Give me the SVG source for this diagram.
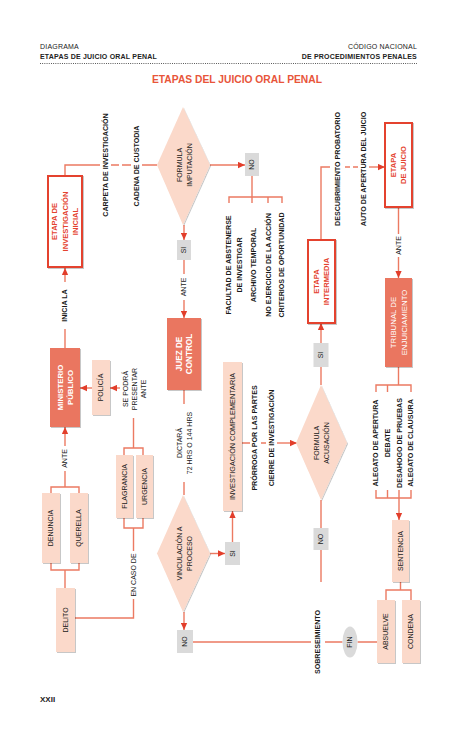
<svg xmlns="http://www.w3.org/2000/svg" width="474" height="732" viewBox="0 0 474 732">
<style>
text{font-family:"Liberation Sans",Arial,sans-serif;}
.hd{font-size:7px;fill:#222;letter-spacing:0.2px}
.hb{font-weight:bold}
.ttl{font-size:10.5px;font-weight:bold;fill:#E8553A;text-anchor:middle}
.ln{stroke:#EC7A62;stroke-width:1.4;fill:none}
.la{stroke:#EC7A62;stroke-width:1.4;fill:none;marker-end:url(#ar)}
.or{fill:#EA7660;filter:url(#sh)}
.pe{fill:#FBD9CA;filter:url(#sh)}
.ro{fill:#fff;stroke:#E4432F;stroke-width:2;filter:url(#sh)}
.gr{fill:#DADADA}
.t{font-size:7.1px;font-weight:bold;fill:#1a1a1a;text-anchor:middle}
.tm{font-size:7px;fill:#1a1a1a;text-anchor:middle}
.tw{font-size:7.8px;font-weight:bold;fill:#fff;text-anchor:middle}
.twr{font-size:7.8px;fill:#fff;text-anchor:middle}
.tr{font-size:7.6px;font-weight:bold;fill:#E4432F;text-anchor:middle}
</style>
<defs>
<marker id="ar" viewBox="0 0 10 10" refX="10" refY="5" markerWidth="7" markerHeight="7" orient="auto" markerUnits="userSpaceOnUse">
<path d="M0 0.5L10 5L0 9.5z" fill="#E23E2B"/>
</marker>
<filter id="sh" x="-20%" y="-20%" width="150%" height="150%">
<feDropShadow dx="1" dy="1" stdDeviation="0.7" flood-color="#000" flood-opacity="0.22"/>
</filter>
</defs>

<g id="header">
<text class="hd" x="40" y="49">DIAGRAMA</text>
<text class="hd hb" x="40" y="59">ETAPAS DE JUICIO ORAL PENAL</text>
<text class="hd" x="417" y="49" text-anchor="end">CÓDIGO NACIONAL</text>
<text class="hd hb" x="417" y="59" text-anchor="end">DE PROCEDIMIENTOS PENALES</text>
<line x1="40" y1="63.5" x2="417" y2="63.5" stroke="#333" stroke-width="0.9" stroke-dasharray="0.9 1.3"/>
<text class="ttl" x="237" y="83" textLength="170" lengthAdjust="spacingAndGlyphs">ETAPAS DEL JUICIO ORAL PENAL</text>
</g>

<g id="connectors">
<path class="ln" d="M65 348V329"/>
<path class="la" d="M65 282V268"/>
<path class="ln" d="M65 176V165H100M111 165H119M122 165H131M142 165H157"/>
<path class="la" d="M210 165H245"/>
<path class="ln" d="M252 176V203M229 203V197H282V203M268 197V203"/>
<path class="la" d="M184 225V240"/>
<path class="ln" d="M184 260V274"/>
<path class="la" d="M184 300V318"/>
<path class="ln" d="M184 390V404M184 482V495"/>
<path class="la" d="M210 553.5H225"/>
<path class="la" d="M232.5 542V511"/>
<path class="la" d="M184 612V630"/>
<path class="ln" d="M193 642H311M325 642H342.5M357.5 642H377"/>
<path class="ln" d="M242 443H250M261 443H266"/>
<path class="la" d="M277 443H297"/>
<path class="ln" d="M321 385V367"/>
<path class="la" d="M321 343V323"/>
<path class="ln" d="M321 500V528M321 550V582"/>
<path class="ln" d="M321 240V167H330M345 167H350M353 167H358"/>
<path class="la" d="M369 167H385"/>
<path class="ln" d="M398.5 207V234"/>
<path class="la" d="M398.5 257V278"/>
<path class="ln" d="M398.5 367V385M376 392V385H411V392M387.5 385V392"/>
<path class="ln" d="M376 490V498H411V490M387.5 490V498M399 490V498"/>
<path class="la" d="M399 498V520"/>
<path class="ln" d="M400.5 582V590M386 600V590H411V600"/>
<path class="la" d="M92 388H80"/>
<path class="la" d="M120 388H110"/>
<path class="ln" d="M133.5 418V448M124 455V448H143V455"/>
<path class="ln" d="M124 518V528H143V518M133.5 528V551M133.5 599V618H75"/>
<path class="ln" d="M65 487V471"/>
<path class="la" d="M65 446V427"/>
<path class="ln" d="M51 493V487H79V493M51 563V570H79V563M65 570V588"/>
</g>

<g id="labels">
<text class="t" transform="translate(65 305.5) rotate(-90)" y="2.4">INICIA LA</text>
<text class="t" transform="translate(106 165) rotate(-90)" y="2.4">CARPETA DE INVESTIGACIÓN</text>
<text class="t" transform="translate(137 166) rotate(-90)" y="2.4">CADENA DE CUSTODIA</text>
<text class="t" transform="translate(234.5 265) rotate(-90)"><tspan x="0" y="-3.2">FACULTAD DE ABSTENERSE</tspan><tspan x="0" y="7.8">DE INVESTIGAR</tspan></text>
<text class="t" transform="translate(253.5 265) rotate(-90)" y="2.4">ARCHIVO TEMPORAL</text>
<text class="t" transform="translate(268.5 265) rotate(-90)" y="2.4">NO EJERCICIO DE LA ACCIÓN</text>
<text class="t" transform="translate(282 265) rotate(-90)" y="2.4">CRITERIOS DE OPORTUNIDAD</text>
<text class="tm" transform="translate(184 287) rotate(-90)" y="2.4">ANTE</text>
<text class="tm" transform="translate(184.5 443) rotate(-90)"><tspan x="0" y="-2.6">DICTARÁ</tspan><tspan x="0" y="7.4">72 HRS O 144 HRS</tspan></text>
<text class="t" transform="translate(255 438) rotate(-90)" y="2.4">PRÓRROGA POR LAS PARTES</text>
<text class="t" transform="translate(271.5 438) rotate(-90)" y="2.4">CIERRE DE INVESTIGACIÓN</text>
<text class="t" transform="translate(318 642) rotate(-90)" y="2.4">SOBRESEIMIENTO</text>
<text class="t" transform="translate(337.5 169) rotate(-90)" y="2.4">DESCUBRIMIENTO PROBATORIO</text>
<text class="t" transform="translate(363.5 169) rotate(-90)" y="2.4">AUTO DE APERTURA DEL JUICIO</text>
<text class="tm" transform="translate(398.5 245.5) rotate(-90)" y="2.4">ANTE</text>
<text class="t" transform="translate(376 443) rotate(-90)" y="2.4">ALEGATO DE APERTURA</text>
<text class="t" transform="translate(387.5 443) rotate(-90)" y="2.4">DEBATE</text>
<text class="t" transform="translate(399.5 443) rotate(-90)" y="2.4">DESAHOGO DE PRUEBAS</text>
<text class="t" transform="translate(411 443) rotate(-90)" y="2.4">ALEGATO DE CLAUSURA</text>
<text class="tm" transform="translate(134.5 389) rotate(-90)"><tspan x="0" y="-6.6">SE PODRÁ</tspan><tspan x="0" y="2.4">PRESENTAR</tspan><tspan x="0" y="11.4">ANTE</tspan></text>
<text class="tm" transform="translate(133.5 575) rotate(-90)" y="2.4">EN CASO DE</text>
<text class="tm" transform="translate(65 458.5) rotate(-90)" y="2.4">ANTE</text>
</g>

<g id="etapa-investigacion-inicial">
<rect class="ro" x="48" y="176" width="34" height="91"/>
<text class="tr" transform="translate(65 221.5) rotate(-90)"><tspan x="0" y="-7.8">ETAPA DE</tspan><tspan x="0" y="2.7">INVESTIGACIÓN</tspan><tspan x="0" y="13.2">INICIAL</tspan></text>
</g>
<g id="ministerio-publico">
<rect class="or" x="50" y="348" width="30" height="79"/>
<text class="tw" transform="translate(65 387.5) rotate(-90)"><tspan x="0" y="-2.3">MINISTERIO</tspan><tspan x="0" y="7.7">PÚBLICO</tspan></text>
</g>
<g id="policia">
<rect class="pe" x="92" y="360" width="18" height="55"/>
<text class="tm" transform="translate(101 387.5) rotate(-90)" y="2.4">POLICÍA</text>
</g>
<g id="flagrancia">
<rect class="pe" x="116" y="455" width="17" height="63"/>
<text class="tm" transform="translate(124.5 486.5) rotate(-90)" y="2.4">FLAGRANCIA</text>
</g>
<g id="urgencia">
<rect class="pe" x="136" y="455" width="17" height="63"/>
<text class="tm" transform="translate(144.5 486.5) rotate(-90)" y="2.4">URGENCIA</text>
</g>
<g id="denuncia">
<rect class="pe" x="42" y="493" width="18" height="70"/>
<text class="tm" transform="translate(51 528) rotate(-90)" y="2.4">DENUNCIA</text>
</g>
<g id="querella">
<rect class="pe" x="70" y="493" width="18" height="70"/>
<text class="tm" transform="translate(79 528) rotate(-90)" y="2.4">QUERELLA</text>
</g>
<g id="delito">
<rect class="pe" x="56" y="588" width="19" height="64"/>
<text class="tm" transform="translate(65.5 620) rotate(-90)" y="2.4">DELITO</text>
</g>
<g id="formula-imputacion">
<path class="pe" d="M183 107L210 165L183 225L157 165Z"/>
<text class="tm" transform="translate(184.5 165) rotate(-90)"><tspan x="0" y="-2.6">FORMULA</tspan><tspan x="0" y="7.4">IMPUTACIÓN</tspan></text>
</g>
<g id="no-imputacion">
<rect class="gr" x="245" y="153" width="14" height="23"/>
<text class="tm" transform="translate(252 164.5) rotate(-90)" y="2.4">NO</text>
</g>
<g id="si-imputacion">
<rect class="gr" x="177" y="240" width="14" height="20"/>
<text class="tm" transform="translate(184 250) rotate(-90)" y="2.4">SI</text>
</g>
<g id="juez-de-control">
<rect class="or" x="167" y="318" width="34" height="72"/>
<text class="tw" transform="translate(184 354) rotate(-90)" style="font-size:8.2px"><tspan x="0" y="-2.3">JUEZ DE</tspan><tspan x="0" y="7.9">CONTROL</tspan></text>
</g>
<g id="vinculacion-a-proceso">
<path class="pe" d="M183 495L210 553.5L183 612L157 553.5Z"/>
<text class="tm" transform="translate(184.5 553.5) rotate(-90)"><tspan x="0" y="-2.6">VINCULACIÓN A</tspan><tspan x="0" y="7.4">PROCESO</tspan></text>
</g>
<g id="si-vinculacion">
<rect class="gr" x="225" y="542" width="15" height="23"/>
<text class="tm" transform="translate(232.5 553.5) rotate(-90)" y="2.4">SI</text>
</g>
<g id="no-vinculacion">
<rect class="gr" x="177" y="630" width="16" height="23"/>
<text class="tm" transform="translate(185 641.5) rotate(-90)" y="2.4">NO</text>
</g>
<g id="investigacion-complementaria">
<rect class="pe" x="223" y="362" width="19" height="149"/>
<text class="tm" transform="translate(232.5 436.5) rotate(-90)" y="2.5" style="font-size:7.3px">INVESTIGACIÓN COMPLEMENTARIA</text>
</g>
<g id="formula-acusacion">
<path class="pe" d="M321 385L347 443L321 500L296 443Z"/>
<text class="tm" transform="translate(322 443) rotate(-90)"><tspan x="0" y="-2.6">FORMULA</tspan><tspan x="0" y="7.4">ACUSACIÓN</tspan></text>
</g>
<g id="si-acusacion">
<rect class="gr" x="313.5" y="343" width="15" height="24"/>
<text class="tm" transform="translate(321 355) rotate(-90)" y="2.4">SI</text>
</g>
<g id="no-acusacion">
<rect class="gr" x="313.5" y="528" width="15" height="22"/>
<text class="tm" transform="translate(321 539) rotate(-90)" y="2.4">NO</text>
</g>
<g id="etapa-intermedia">
<rect class="ro" x="308" y="240" width="27" height="83"/>
<text class="tr" transform="translate(321.5 281.5) rotate(-90)"><tspan x="0" y="-2.4">ETAPA</tspan><tspan x="0" y="7.8">INTERMEDIA</tspan></text>
</g>
<g id="etapa-de-juicio">
<rect class="ro" x="385" y="123" width="27" height="84"/>
<text class="tr" transform="translate(398.5 165) rotate(-90)"><tspan x="0" y="-2.4">ETAPA</tspan><tspan x="0" y="7.8">DE JUICIO</tspan></text>
</g>
<g id="tribunal-de-enjuiciamiento">
<rect class="or" x="385" y="278" width="27" height="89"/>
<text class="twr" transform="translate(398.5 322.5) rotate(-90)"><tspan x="0" y="-2.6">TRIBUNAL DE</tspan><tspan x="0" y="8">ENJUICIAMIENTO</tspan></text>
</g>
<g id="sentencia">
<rect class="pe" x="392" y="520" width="17" height="62"/>
<text class="tm" transform="translate(400.5 551) rotate(-90)" y="2.4">SENTENCIA</text>
</g>
<g id="absuelve">
<rect class="pe" x="377" y="600" width="18" height="63"/>
<text class="tm" transform="translate(386 631.5) rotate(-90)" y="2.4">ABSUELVE</text>
</g>
<g id="condena">
<rect class="pe" x="402" y="600" width="18" height="63"/>
<text class="tm" transform="translate(411 631.5) rotate(-90)" y="2.4">CONDENA</text>
</g>
<g id="fin">
<ellipse class="gr" cx="350" cy="642" rx="7.5" ry="15.5"/>
<text class="tm" transform="translate(350 642) rotate(-90)" y="2.4">FIN</text>
</g>

<g id="footer">
<text x="40" y="702" style="font-size:8px;font-weight:bold;fill:#222">XXII</text>
</g>
</svg>
